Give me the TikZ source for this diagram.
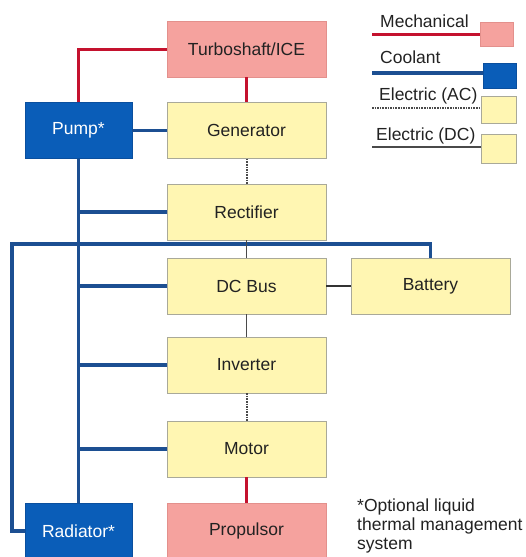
\documentclass[tikz,border=0pt]{standalone}
\usepackage{fontspec}
\setmainfont{Liberation Sans}
\definecolor{pinkfill}{HTML}{F5A29E}
\definecolor{pinkedge}{HTML}{E3908C}
\definecolor{yellowfill}{HTML}{FFF6B2}
\definecolor{yellowedge}{HTML}{A9A999}
\definecolor{bluefill}{HTML}{0A5DB8}
\definecolor{blueedge}{HTML}{0A4F9E}
\definecolor{mechred}{HTML}{C4122E}
\definecolor{coolblue}{HTML}{1C4F92}
\definecolor{elecgray}{HTML}{4A4A4A}
\definecolor{textgray}{HTML}{222222}
\tikzset{mechbox/.style={draw=pinkedge, fill=pinkfill, minimum width=159pt, minimum height=56pt, inner sep=0pt, text=textgray}}
\tikzset{elecbox/.style={draw=yellowedge, fill=yellowfill, minimum width=159pt, minimum height=56pt, inner sep=0pt, text=textgray}}
\tikzset{coolbox/.style={draw=blueedge, fill=bluefill, minimum width=107pt, minimum height=56pt, inner sep=0pt, text=white}}
\tikzset{mechline/.style={line width=3pt, mechred}}
\tikzset{coolline/.style={line width=3.2pt, coolblue}}
\tikzset{acline/.style={line width=2pt, elecgray, dash pattern=on 1.6pt off 1pt}}
\tikzset{dcline/.style={line width=1.8pt, elecgray}}
\tikzset{legtext/.style={anchor=base west, inner sep=0pt, text=textgray}}

\begin{document}
\begin{tikzpicture}[x=1pt, y=-1pt, font=\fontsize{17.5}{21}\selectfont]
		\useasboundingbox (0,0) rectangle (526,557);
		% Coordinates
		\coordinate (L) at (12,244);
		\coordinate (M0) at (372,34);
		\coordinate (C0) at (372,73);
		\coordinate (A0) at (372,108);
		\coordinate (D0) at (372,147);

		% Blocks
		\node[mechbox] (turbo) at (246.5,49) {Turboshaft/ICE};
		\node[elecbox] (gen) at (246.5,130.5) {Generator};
		\node[elecbox] (rect) at (246.5,212) {Rectifier};
		\node[elecbox] (bus) at (246.5,286) {DC Bus};
		\node[elecbox] (inv) at (246.5,365) {Inverter};
		\node[elecbox] (motor) at (246.5,449) {Motor};
		\node[mechbox] (prop) at (246.5,531) {Propulsor};
		\node[elecbox] (batt) at (430.5,286) {Battery};
		\node[coolbox] (pump) at (78.5,130.5) {Pump*};
		\node[coolbox] (rad) at (78.5,531) {Radiator*};

		% Coolant
		\draw[coolline] (pump.east) -- (gen.west);
		\draw[coolline] (pump.south) -- (rad.north);
		\draw[coolline] (pump.south |- rect.west) -- (rect.west);
		\draw[coolline] (pump.south |- bus.west) -- (bus.west);
		\draw[coolline] (pump.south |- inv.west) -- (inv.west);
		\draw[coolline] (pump.south |- motor.west) -- (motor.west);
		\draw[coolline] (rad.west) -| (L) -| (batt.north);

		% Mechanical
		\draw[mechline] (pump.north) |- (turbo.west);
		\draw[mechline] (turbo.south) -- (gen.north);
		\draw[mechline] (motor.south) -- (prop.north);

		% Electric
		\draw[acline] (gen.south) -- (rect.north);
		\draw[dcline] (rect.south) -- (bus.north);
		\draw[dcline] (bus.south) -- (inv.north);
		\draw[acline] (inv.south) -- (motor.north);
		\draw[line width=1.4pt, black!80] (bus.east) -- (batt.west);

		% Legend
		\node[legtext] (lmech) at (380,27) {Mechanical};
		\node[legtext] (lcool) at (380,63) {Coolant};
		\node[legtext] (lac) at (379,100) {Electric (AC)};
		\node[legtext] (ldc) at (376,140) {Electric (DC)};
		\node[mechbox, minimum width=33pt, minimum height=24pt] (kmech) at (496.5,34) {};
		\node[coolbox, minimum width=33pt, minimum height=25pt] (kcool) at (499.5,75.5) {};
		\node[elecbox, minimum width=35pt, minimum height=27pt] (kac) at (498.5,109.5) {};
		\node[elecbox, minimum width=35pt, minimum height=29pt] (kdc) at (498.5,148.5) {};
		\draw[mechline] (M0) -- (M0 -| kmech.west);
		\draw[coolline] (C0) -- (C0 -| kcool.west);
		\draw[acline] (A0) -- (A0 -| kac.west);
		\draw[dcline] (D0) -- (D0 -| kdc.west);

		% Note
		\node[anchor=north west, align=left, inner sep=0pt, text=textgray, font=\fontsize{17.5}{19}\selectfont] (note) at (357,499) {*Optional liquid\\thermal management\\system};
	\end{tikzpicture}
\end{document}
